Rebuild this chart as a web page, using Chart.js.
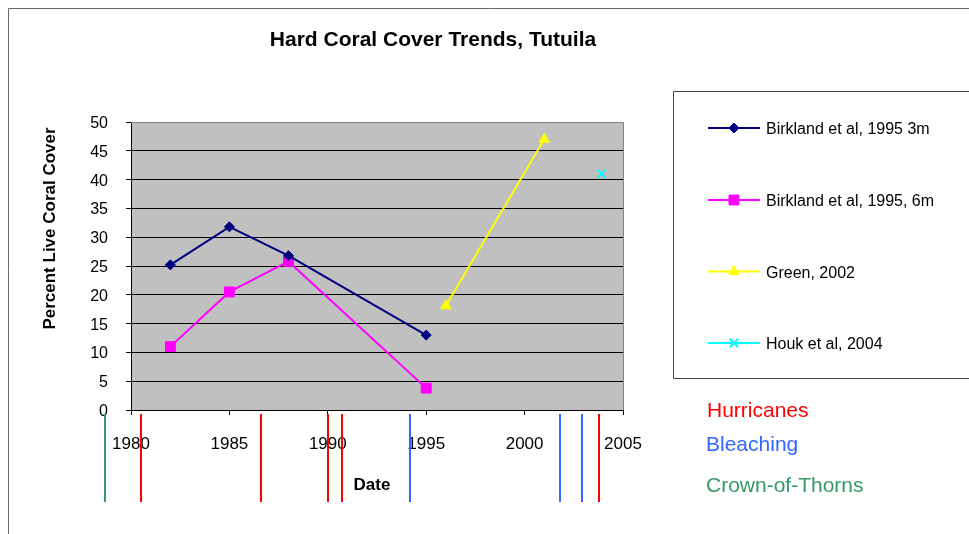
<!DOCTYPE html>
<html>
<head>
<meta charset="utf-8">
<script src="https://cdn.jsdelivr.net/npm/chart.js"></script>
<style>
  body { margin: 0; background: #fff; }
</style>
</head>
<body>
<canvas id="grafico" width="969" height="534"></canvas>
<script>
// dados
var anosBirkland = [1982, 1985, 1988, 1995]
var birkland3m = [25.2, 31.8, 26.8, 13.0]
var birkland6m = [11.0, 20.5, 25.8, 3.8]
var anosGreen = [1996, 2001]
var green2002 = [18.1, 47.0]
var anosHouk = [2003.9]
var houk2004 = [41.0]

// eventos (linhas abaixo do eixo)
var furacoes = [1980.5, 1986.6, 1990.0, 1990.7, 2003.8]
var branqueamento = [1994.2, 2001.8, 2002.9]
var coroaEspinhos = [1978.7]

var anosTicks = [1980, 1985, 1990, 1995, 2000, 2005]
var coberturaTicks = [0, 5, 10, 15, 20, 25, 30, 35, 40, 45, 50]

var fonte = "'Liberation Sans', Arial, sans-serif"

function pontos(xs, ys) {
    return xs.map(function (x, i) { return { x: x, y: ys[i] } })
}

var extras = {
    id: 'extras',
    beforeDraw: function (chart) {
        var c = chart.ctx, a = chart.chartArea
        c.save()
        // moldura externa
        c.strokeStyle = '#666'
        c.lineWidth = 1
        c.beginPath()
        c.moveTo(8.5, 534)
        c.lineTo(8.5, 8.5)
        c.lineTo(969, 8.5)
        c.stroke()
        // fundo cinza
        c.fillStyle = '#C0C0C0'
        c.fillRect(a.left, a.top, a.right - a.left, a.bottom - a.top)
        c.restore()
    },
    afterDraw: function (chart) {
        var c = chart.ctx, a = chart.chartArea, x = chart.scales.x
        c.save()
        // borda cinza do grafico
        c.strokeStyle = '#808080'
        c.lineWidth = 1
        c.beginPath()
        c.moveTo(a.left, a.top + 0.5)
        c.lineTo(a.right + 0.5, a.top + 0.5)
        c.lineTo(a.right + 0.5, a.bottom)
        c.stroke()

        // titulo
        c.fillStyle = '#000'
        c.textAlign = 'center'
        c.textBaseline = 'alphabetic'
        c.font = 'bold 21px ' + fonte
        c.fillText('Hard Coral Cover Trends, Tutuila', 433, 45.5)

        c.font = 'bold 17px ' + fonte
        c.fillText('Date', 372, 490)
        c.save()
        c.translate(55, 228.5)
        c.rotate(-Math.PI / 2)
        c.fillText('Percent Live Coral Cover', 0, 0)
        c.restore()

        // linhas de eventos
        function linhas(anos, cor) {
            c.strokeStyle = cor
            c.lineWidth = 2
            anos.forEach(function (ano) {
                var px = Math.round(x.getPixelForValue(ano))
                c.beginPath()
                c.moveTo(px, a.bottom + 4)
                c.lineTo(px, a.bottom + 92)
                c.stroke()
            })
        }
        linhas(furacoes, '#FF0000')
        linhas(branqueamento, '#3366FF')
        linhas(coroaEspinhos, '#339966')

        c.textAlign = 'left'
        c.font = '21px ' + fonte
        c.fillStyle = '#FF0000'
        c.fillText('Hurricanes', 707, 416.5)
        c.fillStyle = '#3366FF'
        c.fillText('Bleaching', 706, 451)
        c.fillStyle = '#339966'
        c.fillText('Crown-of-Thorns', 706, 491.5)

        // legenda
        c.strokeStyle = '#444'
        c.lineWidth = 1
        c.beginPath()
        c.moveTo(969, 91.5)
        c.lineTo(673.5, 91.5)
        c.lineTo(673.5, 378.5)
        c.lineTo(969, 378.5)
        c.stroke()

        var ys = [128, 200, 271.5, 343]
        c.font = '16px ' + fonte
        chart.data.datasets.forEach(function (ds, i) {
            var y = ys[i]
            c.strokeStyle = ds.borderColor
            c.lineWidth = 2
            c.beginPath()
            c.moveTo(708, y)
            c.lineTo(760, y)
            c.stroke()
            if (Chart.helpers && Chart.helpers.drawPoint) {
                c.fillStyle = ds.backgroundColor
                c.strokeStyle = ds.borderColor
                c.lineWidth = ds.pointBorderWidth
                Chart.helpers.drawPoint(c, {
                    pointStyle: ds.pointStyle,
                    radius: ds.pointRadius,
                    rotation: 0,
                    borderWidth: ds.pointBorderWidth
                }, 734, y)
            }
            c.fillStyle = '#000'
            c.fillText(ds.label, 766, y + 6)
        })
        c.restore()
    }
}

new Chart(document.getElementById('grafico'), {
    type: 'line',
    data: {
        datasets: [
            {
                label: 'Birkland et al, 1995 3m',
                data: pontos(anosBirkland, birkland3m),
                borderColor: '#000080',
                backgroundColor: '#000080',
                borderWidth: 2,
                pointStyle: 'rectRot',
                pointRadius: 5,
                pointBorderWidth: 1
            },
            {
                label: 'Birkland et al, 1995, 6m',
                data: pontos(anosBirkland, birkland6m),
                borderColor: '#FF00FF',
                backgroundColor: '#FF00FF',
                borderWidth: 2,
                pointStyle: 'rect',
                pointRadius: 7,
                pointBorderWidth: 1
            },
            {
                label: 'Green, 2002',
                data: pontos(anosGreen, green2002),
                borderColor: '#FFFF00',
                backgroundColor: '#FFFF00',
                borderWidth: 2,
                pointStyle: 'triangle',
                pointRadius: 6,
                pointBorderWidth: 1
            },
            {
                label: 'Houk et al, 2004',
                data: pontos(anosHouk, houk2004),
                borderColor: '#00FFFF',
                backgroundColor: '#00FFFF',
                borderWidth: 2,
                pointStyle: 'crossRot',
                pointRadius: 6,
                pointBorderWidth: 2
            }
        ]
    },
    options: {
        responsive: false,
        animation: false,
        layout: { padding: { left: 71, right: 346, top: 122, bottom: 84 } },
        plugins: {
            legend: { display: false },
            title: { display: false },
            tooltip: { enabled: false }
        },
        scales: {
            x: {
                type: 'linear',
                min: anosTicks[0],
                max: anosTicks[anosTicks.length - 1],
                afterBuildTicks: function (s) { s.ticks = anosTicks.map(function (v) { return { value: v } }) },
                ticks: {
                    color: '#000',
                    font: { family: fonte, size: 17 },
                    padding: 19,
                    maxRotation: 0,
                    callback: function (v) { return String(v) }
                },
                grid: { drawOnChartArea: false, tickLength: 5, color: '#000' },
                border: { color: '#000' },
                afterFit: function (s) { s.height = 40 }
            },
            y: {
                min: coberturaTicks[0],
                max: coberturaTicks[coberturaTicks.length - 1],
                afterBuildTicks: function (s) { s.ticks = coberturaTicks.map(function (v) { return { value: v } }) },
                ticks: {
                    color: '#000',
                    font: { family: fonte, size: 16 },
                    padding: 18,
                    labelOffset: 1.5,
                    callback: function (v) { return String(v) }
                },
                grid: { tickLength: 5, color: '#000' },
                border: { color: '#000' },
                afterFit: function (s) { s.width = 60 }
            }
        }
    },
    plugins: [extras]
});
</script>
</body>
</html>
